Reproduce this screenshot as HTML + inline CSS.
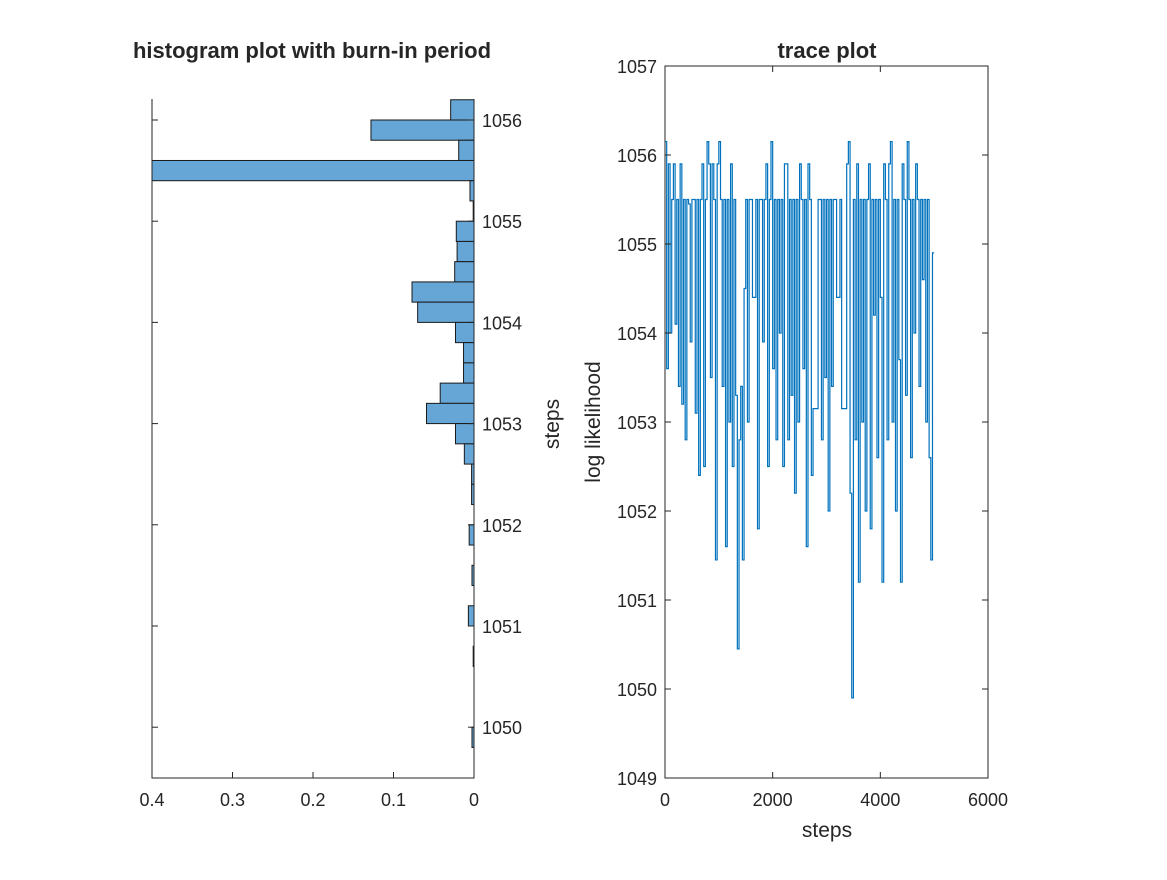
<!DOCTYPE html>
<html><head><meta charset="utf-8"><style>
body{margin:0;background:#fff}
text{font-family:"Liberation Sans",Arial,sans-serif;fill:#262626}
</style></head><body>
<svg id="fig" width="1167" height="875" xmlns="http://www.w3.org/2000/svg">
<rect width="1167" height="875" fill="#fff"/>
<g id="hist"></g>
<g id="trace"></g>
</svg>
<script>
// histogram data (bin lower edges, bin width 0.2)
const binEdges=[1056.0,1055.8,1055.6,1055.4,1055.2,1055.0,1054.8,1054.6,1054.4,1054.2,1054.0,1053.8,1053.6,1053.4,1053.2,1053.0,1052.8,1052.6,1052.4,1052.2,1051.8,1051.4,1051.0,1050.6,1049.8];
const binValues=[0.029,0.128,0.019,0.42,0.005,0.001,0.022,0.021,0.024,0.077,0.070,0.023,0.013,0.013,0.042,0.059,0.023,0.012,0.003,0.003,0.006,0.0025,0.007,0.001,0.0025];
const histXTicks=[0.4,0.3,0.2,0.1,0];
const histYTicks=[1050,1051,1052,1053,1054,1055,1056];
// trace data
const traceValues=[1056.15,1053.6,1055.9,1054.0,1055.5,1055.9,1054.1,1055.5,1053.4,1055.9,
1053.2,1055.5,1052.8,1055.5,1055.45,1053.9,1055.5,1055.5,1053.1,1055.5,
1052.4,1055.5,1055.9,1052.5,1055.5,1056.15,1055.9,1053.5,1055.9,1055.5,
1051.45,1055.9,1056.15,1055.5,1053.4,1055.5,1051.6,1055.5,1053.0,1055.9,
1052.5,1055.5,1053.3,1050.45,1052.8,1053.4,1051.45,1054.5,1055.5,1053.0,
1055.5,1055.5,1054.4,1054.4,1055.5,1051.8,1055.5,1055.5,1053.9,1055.5,
1055.9,1052.5,1055.5,1056.15,1053.6,1055.5,1052.8,1055.5,1054.0,1055.5,
1052.5,1055.9,1055.9,1052.8,1055.5,1053.3,1055.5,1052.2,1055.5,1053.0,
1055.9,1055.5,1053.6,1055.5,1051.6,1055.9,1055.5,1052.4,1053.15,1053.15,
1053.15,1055.5,1055.5,1052.8,1055.5,1053.5,1055.5,1052.0,1055.5,1053.4,
1055.5,1055.5,1054.4,1054.4,1055.5,1053.15,1053.15,1053.15,1055.9,1056.15,
1052.2,1049.9,1055.5,1052.8,1055.9,1051.2,1055.5,1053.0,1055.5,1052.0,
1055.5,1055.9,1051.8,1055.5,1054.2,1055.5,1052.6,1055.5,1054.4,1051.2,
1055.9,1055.5,1052.8,1055.9,1056.15,1053.0,1055.5,1052.0,1055.5,1053.7,
1051.2,1055.9,1055.5,1053.3,1056.15,1055.5,1052.6,1055.5,1054.0,1055.9,
1055.5,1053.4,1055.5,1054.6,1055.5,1053.0,1055.5,1052.6,1051.45,1054.9];
const traceStepMax=5000;
const traceXTicks=[0,2000,4000,6000];
const traceYTicks=[1049,1050,1051,1052,1053,1054,1055,1056,1057];

const NS="http://www.w3.org/2000/svg";
function mk(parent,tag,attrs,txt){const e=document.createElementNS(NS,tag);for(const k in attrs)e.setAttribute(k,attrs[k]);if(txt!==undefined)e.textContent=txt;parent.appendChild(e);return e;}

// ---- histogram panel
const H=document.getElementById('hist');
const hL=152,hR=474,hT=99,hB=778;
const hx=v=>hR-(v/0.4)*(hR-hL);
const hy=v=>120+(1056-v)*101.2;
const clip=mk(H,'clipPath',{id:'hclip'});mk(clip,'rect',{x:hL,y:hT-5,width:hR-hL,height:hB-hT+5});
const bars=mk(H,'g',{'clip-path':'url(#hclip)'});


binEdges.forEach((e,i)=>{
  const x=hx(binValues[i]),y=hy(e+0.2),h=hy(e)-hy(e+0.2);
  const r=mk(bars,'rect',{x:x,y:y,width:hR-x,height:h,fill:'#66A6D6',stroke:'#1a1a1a','stroke-width':1});
  
  
});
mk(H,'path',{d:`M${hL},${hT}V${hB}H${hR}V${hT}`,fill:'none',stroke:'#262626','stroke-width':1});
histXTicks.forEach(t=>{const x=hx(t);mk(H,'line',{x1:x,y1:hB,x2:x,y2:hB-6,stroke:'#262626'});
 const l=mk(H,'text',{x:x,y:hB+28,'text-anchor':'middle','font-size':18},String(t));
 
 });
histYTicks.forEach(t=>{const y=hy(t);mk(H,'line',{x1:hR,y1:y,x2:hR-6,y2:y,stroke:'#262626'});mk(H,'line',{x1:hL,y1:y,x2:hL+6,y2:y,stroke:'#262626'});
 const l=mk(H,'text',{x:hR+8,y:y+7,'font-size':18},String(t));
 
 });
let t1=mk(H,'text',{x:312,y:58,'text-anchor':'middle','font-size':22,'font-weight':'bold',fill:'#000'},'histogram plot with burn-in period');

let yl=mk(H,'text',{x:0,y:0,'text-anchor':'middle','font-size':21,transform:'translate(559,424) rotate(-90)'},'steps');


// ---- trace panel
const T=document.getElementById('trace');
const tL=665,tR=988,tT=66,tB=778;
const tx=v=>tL+v/6000*(tR-tL);
const ty=v=>tB-(v-1049)/8*(tB-tT);
mk(T,'rect',{x:tL,y:tT,width:tR-tL,height:tB-tT,fill:'none',stroke:'#262626'});
let d='';const n=traceValues.length;
traceValues.forEach((v,i)=>{const x0=tx(i*traceStepMax/n),x1=tx((i+1)*traceStepMax/n);
 d+=(i===0?`M${x0},${ty(v)}`:`V${ty(v)}`)+`H${x1}`;});
const line=mk(T,'path',{d:d,fill:'none',stroke:'#0072BD','stroke-width':1.2});


traceXTicks.forEach(t=>{const x=tx(t);mk(T,'line',{x1:x,y1:tB,x2:x,y2:tB-6,stroke:'#262626'});mk(T,'line',{x1:x,y1:tT,x2:x,y2:tT+6,stroke:'#262626'});
 const l=mk(T,'text',{x:x,y:tB+28,'text-anchor':'middle','font-size':18},String(t));
 
 });
traceYTicks.forEach(t=>{const y=ty(t);mk(T,'line',{x1:tL,y1:y,x2:tL+6,y2:y,stroke:'#262626'});mk(T,'line',{x1:tR,y1:y,x2:tR-6,y2:y,stroke:'#262626'});
 const l=mk(T,'text',{x:tL-8,y:y+7,'text-anchor':'end','font-size':18},String(t));
 
 });
let t2=mk(T,'text',{x:827,y:58,'text-anchor':'middle','font-size':22,'font-weight':'bold',fill:'#000'},'trace plot');

let xl=mk(T,'text',{x:827,y:837,'text-anchor':'middle','font-size':21},'steps');

let yl2=mk(T,'text',{x:0,y:0,'text-anchor':'middle','font-size':21,transform:'translate(600,422) rotate(-90)'},'log likelihood');

</script>
</body></html>
